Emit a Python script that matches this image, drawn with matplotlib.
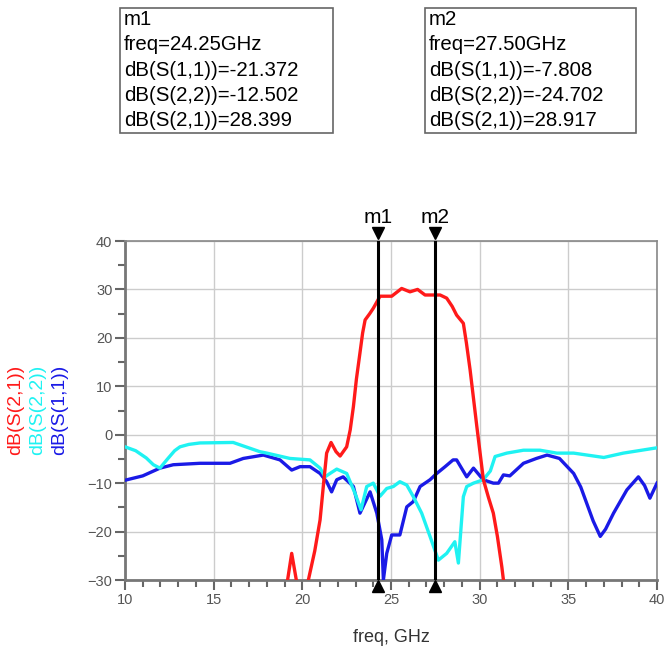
import matplotlib.pyplot as plt
from matplotlib.patches import Rectangle
from matplotlib.ticker import MultipleLocator

plt.rcParams['font.family'] = ['Liberation Sans', 'DejaVu Sans']

# S(2,1) - red, clipped segment before the passband then the main curve
s21_freq = [19.0, 19.4, 19.85, 20.2, 20.34, 20.7, 21.0, 21.2, 21.37, 21.62, 21.9, 22.13, 22.5,
            22.7, 22.88, 23.05, 23.25, 23.4, 23.54, 23.8, 24.0, 24.2, 24.38, 25.04, 25.6, 26.07,
            26.5, 26.92, 27.77, 28.14, 28.45, 28.7, 29.08, 29.25, 29.46, 29.84, 30.21, 30.5,
            30.77, 31.0, 31.25, 31.34, 31.5]
s21_db = [-34, -24.5, -34, -33, -30, -24.0, -17.6, -10.0, -3.8, -1.6, -3.5, -4.4, -2.5,
          1.0, 5.8, 11.5, 16.9, 21.0, 23.7, 25.0, 26.1, 27.4, 28.6, 28.6, 30.2, 29.5,
          30.0, 28.85, 28.85, 28.2, 26.5, 24.7, 23.0, 19.0, 13.4, 1.7, -9.3, -13.0,
          -16.2, -21.0, -27.3, -30, -34]

# S(2,2) - cyan
s22_freq = [10.0, 10.6, 11.2, 11.6, 11.97, 12.4, 12.8, 13.1, 13.6, 14.23, 16.1, 17.6, 18.0,
            19.3, 20.43, 21.0, 21.28, 21.56, 21.94, 22.5, 22.97, 23.31, 23.63, 24.0, 24.38,
            24.76, 25.13, 25.5, 25.89, 26.26, 26.73, 27.2, 27.67, 28.14, 28.6, 28.8, 29.08,
            29.27, 29.65, 30.2, 30.6, 30.87, 31.53, 32.47, 33.4, 34.35, 35.3, 37.0, 38.1, 40.0]
s22_db = [-2.5, -3.3, -4.8, -6.2, -6.9, -5.0, -3.3, -2.5, -2.0, -1.7, -1.6, -3.5, -3.8,
          -4.9, -5.2, -6.9, -8.7, -8.0, -7.1, -8.0, -12.1, -15.5, -10.7, -10.0, -12.7,
          -11.1, -10.7, -9.7, -10.4, -12.8, -16.2, -21.0, -25.9, -24.5, -22.1, -26.5, -12.8,
          -10.7, -10.0, -9.3, -7.5, -4.5, -3.8, -3.2, -3.2, -3.8, -3.8, -4.7, -3.8, -2.7]

# S(1,1) - blue
s11_freq = [10.0, 11.0, 11.97, 12.72, 14.23, 15.92, 16.67, 17.8, 18.74, 19.4, 19.87, 20.43,
            21.0, 21.37, 21.65, 21.94, 22.3, 22.88, 23.25, 23.82, 24.2, 24.48, 24.57,
            24.76, 25.04, 25.5, 25.89, 26.26, 26.64, 27.2, 27.58, 28.05, 28.5, 28.7,
            29.27, 29.65, 30.2, 30.77, 31.06, 31.34, 31.7, 32.47, 33.2, 33.8, 34.5,
            35.3, 35.7, 36.04, 36.4, 36.8, 37.1, 37.55, 38.3, 38.95, 39.3, 39.6, 40.0]
s11_db = [-9.4, -8.5, -6.9, -6.2, -5.9, -5.9, -4.9, -4.2, -5.2, -7.3, -6.6, -6.6,
          -8.0, -9.7, -11.8, -9.3, -8.7, -10.7, -16.2, -11.8, -16.2, -21.7, -30,
          -24.5, -20.7, -20.7, -14.9, -13.8, -10.7, -9.3, -8.0, -6.6, -5.2, -5.2,
          -8.7, -6.9, -9.3, -10.0, -10.0, -8.3, -8.5, -5.9, -4.9, -4.2, -4.9,
          -8.0, -10.8, -14.2, -17.8, -21.0, -19.5, -16.2, -11.4, -8.7, -10.5, -13.1, -10.0]

markers = ['m1', 'm2']
marker_freq = [24.25, 27.50]
marker_text = [
    'm1\nfreq=24.25GHz\ndB(S(1,1))=-21.372\ndB(S(2,2))=-12.502\ndB(S(2,1))=28.399',
    'm2\nfreq=27.50GHz\ndB(S(1,1))=-7.808\ndB(S(2,2))=-24.702\ndB(S(2,1))=28.917',
]

W, H = 664, 650
fig = plt.figure(figsize=(W / 100, H / 100), dpi=100)
ax = fig.add_axes([125 / W, 1 - 580 / H, 532 / W, 339 / H])

ax.plot(s11_freq, s11_db, color='#1a1ae6', lw=2.4, zorder=3)
ax.plot(s22_freq, s22_db, color='#1ff2f2', lw=2.4, zorder=3)
ax.plot(s21_freq, s21_db, color='#ff1a1a', lw=2.4, zorder=3)

ax.set_xlim(10, 40)
ax.set_ylim(-30, 40)
ax.xaxis.set_major_locator(MultipleLocator(5))
ax.xaxis.set_minor_locator(MultipleLocator(1))
ax.yaxis.set_major_locator(MultipleLocator(10))
ax.yaxis.set_minor_locator(MultipleLocator(5))
ax.grid(True, which='major', color='#cccccc', lw=1.0, zorder=0)
ax.tick_params(which='major', direction='out', length=7, width=1.5, color='#666666',
               labelsize=10.5, labelcolor='#555555', pad=2)
ax.tick_params(which='minor', direction='out', length=5, width=1.5, color='#666666')
for side in ['left', 'bottom']:
    ax.spines[side].set_color('#777777')
    ax.spines[side].set_linewidth(2)
for side in ['top', 'right']:
    ax.spines[side].set_color('#888888')
    ax.spines[side].set_linewidth(1.2)

ax.set_xlabel('freq, GHz', fontsize=13, color='#333333', labelpad=16)

# stacked y labels
for xpos, txt, col in [(16, 'dB(S(2,1))', '#ff1a1a'), (38, 'dB(S(2,2))', '#1ff2f2'),
                       (60, 'dB(S(1,1))', '#1a1ae6')]:
    fig.text(xpos / W, 1 - 410 / H, txt, rotation=90, color=col, fontsize=14,
             ha='center', va='center')

# marker lines with triangles and labels
for name, f in zip(markers, marker_freq):
    ax.axvline(f, color='black', lw=2.2, zorder=4)
    ax.plot([f], [41.6], marker='v', color='black', ms=8, clip_on=False, zorder=5)
    ax.plot([f], [-31.2], marker='^', color='black', ms=8, clip_on=False, zorder=5)
    ax.text(f, 42.8, name, ha='center', va='bottom', fontsize=15, color='black')

# marker readout boxes
for (bx, bw), txt in zip([(120, 213), (425, 211)], marker_text):
    fig.patches.append(Rectangle((bx / W, 1 - 133 / H), bw / W, 125 / H,
                                 transform=fig.transFigure, facecolor='white',
                                 edgecolor='#666666', lw=1.2))
    fig.text((bx + 4) / W, 1 - 10 / H, txt, ha='left', va='top', fontsize=14.7,
             linespacing=1.42, color='black')

fig.savefig('out.png', dpi=100)
